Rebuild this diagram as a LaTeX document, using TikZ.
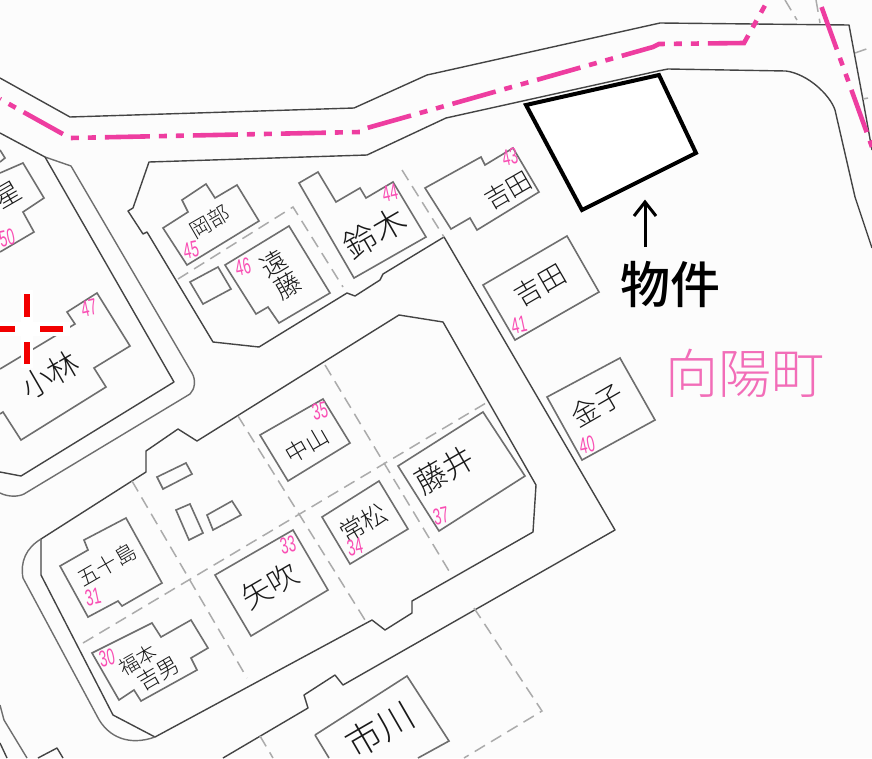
\documentclass[tikz,border=0pt]{standalone}
\usepackage{fontspec}
\newfontfamily\cjkthin{Noto Sans CJK JP Light}
\newfontfamily\cjkfont{Noto Sans CJK JP Medium}
\newfontfamily\numfont{Liberation Sans}
\definecolor{roadline}{HTML}{444444}
\definecolor{houseline}{HTML}{6E6E6E}
\definecolor{lotline}{HTML}{ABABAB}
\definecolor{townpink}{HTML}{EE3DA0}
\definecolor{numpink}{HTML}{F94FB4}
\tikzset{
    road/.style={draw=roadline, line width=1.4pt, line join=round},
    kerb/.style={draw=houseline, line width=1.4pt, line join=round},
    house/.style={draw=houseline, line width=1.6pt, line join=miter},
    lot/.style={draw=lotline, line width=1.5pt, dash pattern=on 12pt off 7pt},
    boundary/.style={draw=townpink, line width=4.6pt, dash pattern=on 45pt off 9pt on 8pt off 9pt on 8pt off 9pt},
    crossmark/.style={draw=red!95!black, line width=5.6pt},
    owner/.style={font=\cjkthin\fontsize{#1}{#1}\selectfont, text=black!90, rotate=30, inner sep=0pt},
    lotnum/.style={font=\numfont\fontsize{23}{23}\selectfont, text=numpink, rotate=12, xscale=0.6, transform shape, inner sep=0pt}
}
\begin{document}
\begin{tikzpicture}[x=1pt, y=-1pt]
    % --- Sheet ---
    \fill[white!99!black] (0,0) rectangle (872,758);
    \useasboundingbox (0,0) rectangle (872,758);

    % --- Roads ---
    \draw[road] (0,78) -- (70,117) -- (354,108) -- (427,75) -- (436,73) -- (660,23) -- (849,25) -- (863,100) -- (872,150);
    \draw[road] (0,133) -- (45,157);
    \draw[kerb] (45,157) -- (71,166) -- (192,373) .. controls (196,380) and (195,389) .. (190,394) -- (24,494) .. controls (18,497) and (8,497) .. (0,493);
    \draw[road] (45,157) -- (174,382) -- (21,476) -- (0,472);

    % --- North block ---
    \draw[road] (446,118) -- (367,155) -- (149,162) -- (133,208) -- (128,211) -- (143,234) -- (147,232) -- (213,342) -- (259,347) -- (347,293) -- (355,296) -- (380,280) -- (383,274) -- (444,237) -- (615,530) -- (343,685) -- (335,675) -- (304,695) -- (308,708) -- (223,758);
    \draw[road] (446,118) -- (658,71) -- (668,69) -- (786,71) .. controls (808,74) and (830,95) .. (835,110) -- (855,197) -- (872,248);

    % --- Centre block ---
    \draw[road] (399,315) -- (443,322) -- (536,485) -- (533,532) -- (412,601) -- (412,613) -- (385,630) -- (372,620) -- (155,737) -- (113,715) -- (41,575) -- (41,539) -- (146,472) -- (146,451) -- (178,429) -- (197,441) -- cycle;
    \draw[kerb] (41,539) .. controls (26,548) and (20,562) .. (23,578) -- (97,716) .. controls (108,738) and (130,746) .. (155,737);
    \draw[kerb] (0,705) -- (4,720) -- (27,758);
    \draw[road] (0,743) -- (7,758);
    \draw[road] (38,758) -- (57,748) -- (63,758);

    % --- Lot lines ---
    \draw[lot] (178,279) -- (293,207) -- (343,287);
    \draw[lot] (402,170) -- (444,237);
    \draw[lot] (132,481) -- (247,678);
    \draw[lot] (83,643) -- (486,403);
    \draw[lot] (238,416) -- (365,620);
    \draw[lot] (325,365) -- (452,576);
    \draw[lot] (474,608) -- (542,711) -- (464,758);
    \draw[lot] (260,736) -- (273,758);
    \draw[lot] (785,0) -- (797,20);
    \draw[lot] (816,0) -- (820,23);
    \draw[lot] (855,53) -- (872,47);
    \draw[lot] (863,99) -- (868,98);

    % --- Houses ---
    \draw[house] (163,228) -- (188,212) -- (182,200) -- (206,184) -- (215,198) -- (237,185) -- (259,221) -- (187,265) -- cycle;
    \draw[house] (190,282) -- (218,267) -- (231,289) -- (203,304) -- cycle;
    \draw[house] (225,265) -- (289,226) -- (330,293) -- (279,323) -- (268,307) -- (256,314) -- cycle;
    \draw[house] (299,183) -- (318,172) -- (336,202) -- (360,188) -- (366,198) -- (393,182) -- (426,237) -- (354,278) -- cycle;
    \draw[house] (425,188) -- (481,157) -- (485,165) -- (513,148) -- (539,192) -- (477,230) -- (470,218) -- (451,229) -- cycle;
    \draw[house] (483,285) -- (567,236) -- (599,292) -- (515,340) -- cycle;
    \draw[house] (547,397) -- (620,358) -- (655,420) -- (582,460) -- cycle;
    \draw[house] (260,435) -- (323,399) -- (350,443) -- (288,481) -- cycle;
    \draw[house] (398,466) -- (483,412) -- (525,476) -- (439,531) -- cycle;
    \draw[house] (322,517) -- (379,481) -- (408,529) -- (350,564) -- cycle;
    \draw[house] (215,575) -- (293,530) -- (328,590) -- (251,636) -- cycle;
    \draw[house] (60,566) -- (88,550) -- (84,540) -- (126,518) -- (162,583) -- (122,606) -- (118,601) -- (88,617) -- cycle;
    \draw[house] (92,653) -- (152,623) -- (161,637) -- (191,620) -- (208,648) -- (191,658) -- (197,670) -- (141,701) -- (134,690) -- (119,700) -- cycle;
    \draw[house] (157,477) -- (186,463) -- (192,474) -- (163,489) -- cycle;
    \draw[house] (176,510) -- (190,504) -- (203,533) -- (189,540) -- cycle;
    \draw[house] (207,515) -- (232,501) -- (241,515) -- (213,530) -- cycle;
    \draw[house] (315,735) -- (407,676) -- (449,741) -- (418,758);
    \draw[house] (315,735) -- (329,758);
    \draw[house] (0,369) -- (75,324) -- (67,312) -- (97,293) -- (130,346) -- (94,368) -- (106,387) -- (21,440) -- (3,412) -- (0,414);
    \draw[house] (0,173) -- (23,163) -- (44,198) -- (23,212) -- (34,232) -- (0,252);
    \draw[house] (0,150) -- (5,158) -- (0,162);

    % --- Target lot ---
    \draw[fill=white, line width=4pt, line join=miter] (526,105) -- (659,75) -- (696,153) -- (582,210) -- cycle;

    % --- Town boundary ---
    \draw[boundary, dash phase=61pt] (0,99) -- (70,138) -- (360,132) -- (367,128) -- (653,47) -- (659,44) -- (744,43) -- (768,0);
    \draw[boundary, dash phase=80.5pt] (819,0) -- (872,147);

    % --- Red mark ---
    \draw[white, line width=14pt] (-2,329) -- (70,329);
    \draw[white, line width=12pt] (27,290) -- (27,368);
    \draw[crossmark] (0,329) -- (15,329);
    \draw[crossmark] (40,329) -- (63,329);
    \draw[crossmark] (27,294) -- (27,317);
    \draw[crossmark] (27,342) -- (27,364);

    % --- Owner names ---
    \node[owner=21] (okabe) at (210,222) {岡部};
    \node[owner=26] (endo1) at (274,263) {遠};
    \node[owner=26] (endo2) at (288,285) {藤};
    \node[owner=33] (suzuki) at (375,233) {鈴木};
    \node[owner=25] (yoshida1) at (508,190) {吉田};
    \node[owner=27] (yoshida2) at (540,285) {吉田};
    \node[owner=28] (kaneko) at (597,405) {金子};
    \node[owner=23] (nakayama) at (307,445) {中山};
    \node[owner=31] (fujii) at (445,470) {藤井};
    \node[owner=25] (tokimatsu) at (363,523) {常松};
    \node[owner=30] (yabuki) at (270,586) {矢吹};
    \node[owner=21] (ikarashi) at (107,565) {五十島};
    \node[owner=20] (fukumoto) at (138,660) {福本};
    \node[owner=22] (yoshio) at (158,673) {吉男};
    \node[owner=31] (kobayashi) at (50,375) {小林};
    \node[owner=36] (ichikawa) at (380,730) {市川};
    \node[owner=26] (hoshi) at (8,195) {星};

    % --- Lot numbers ---
    \foreach \num/\px/\py in {45/191/250, 46/243/267, 44/390/193, 43/510/157, 41/519/325, 40/587/445, 47/89/308, 50/7/238, 35/320/411, 37/441/516, 34/355/547, 33/288/545, 31/93/597, 30/107/658}
        \node[lotnum] (num\num) at (\px,\py) {\num};

    % --- Town name ---
    \node[font=\cjkthin\fontsize{53}{53}\selectfont, text=townpink!75, inner sep=0pt] (town) at (745,373) {向陽町};

    % --- Callout ---
    \node[font=\cjkfont\fontsize{50}{50}\selectfont, inner sep=0pt] (bukken) at (670,284) {物件};
    \coordinate (tip) at (645,202);
    \coordinate (tail) at (645,247);
    \draw[line width=3pt] (tail) -- (tip);
    \draw[line width=3pt] (634,216) -- (tip) -- (656,216);
\end{tikzpicture}
\end{document}
